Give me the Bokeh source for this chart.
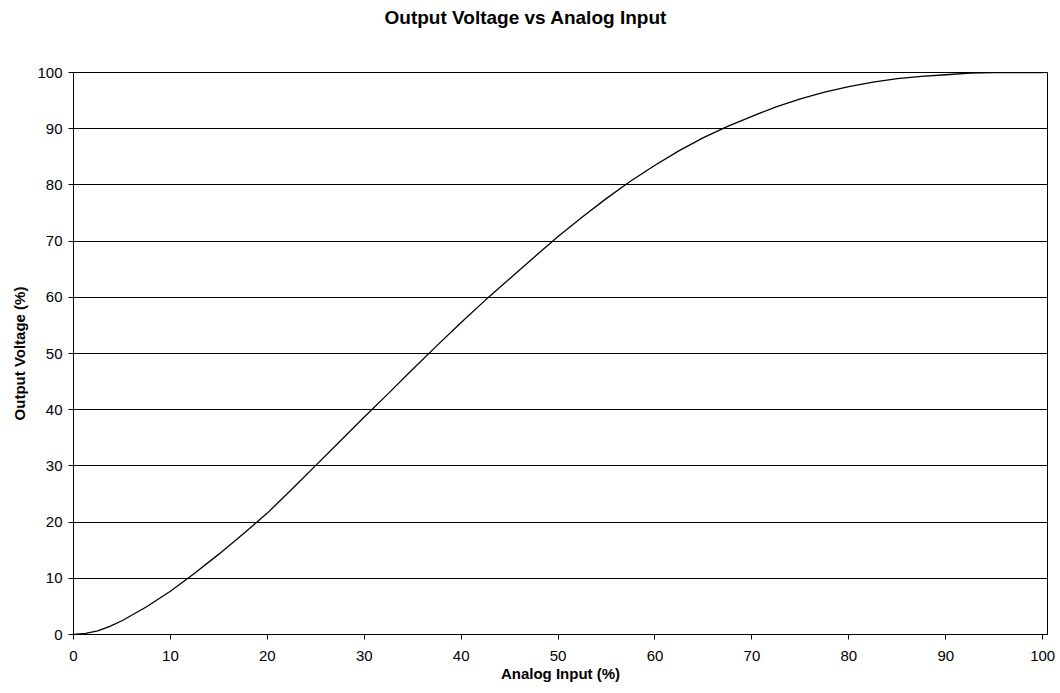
from bokeh.plotting import figure
from bokeh.embed import file_html
from bokeh.resources import INLINE
from bokeh.models import Range1d, FixedTicker, Title

analog_input = [0, 1.25, 2.5, 3.75, 5, 7.5, 10, 12.5, 15, 17.5, 20, 22.5, 25, 27.5, 30, 32.5, 35,
                37.5, 40, 42.5, 45, 47.5, 50, 52.5, 55, 57.5, 60, 62.5, 65, 67.5, 70, 72.5, 75,
                77.5, 80, 82.5, 85, 87.5, 90, 92.5, 95, 97.5, 100]
output_voltage = [0, 0.2, 0.65, 1.45, 2.45, 4.9, 7.7, 10.9, 14.3, 17.9, 21.6, 25.8, 30.1, 34.4,
                  38.7, 42.9, 47.2, 51.4, 55.5, 59.5, 63.3, 67.1, 70.8, 74.3, 77.6, 80.7, 83.5,
                  86.1, 88.4, 90.4, 92.2, 93.9, 95.3, 96.5, 97.5, 98.3, 98.9, 99.3, 99.6, 99.9,
                  100, 100, 100]
x_ticks = list(range(0, 101, 10))
y_ticks = list(range(0, 101, 10))
title_text = "Output Voltage vs Analog Input"

FONT = "Liberation Sans"

p = figure(width=1060, height=693, output_backend="svg", toolbar_location=None,
           x_range=Range1d(0, 100.5), y_range=Range1d(0, 100),
           min_border_left=73, min_border_right=13, min_border_top=72, min_border_bottom=59)
p.title = None

# blank spacer next to the frame (first in the "above" panel) pushes the title up
spacer = Title(text=" ", standoff=21, text_font=FONT, text_font_size="19px")
main_title = Title(text=title_text, align="left", offset=311, standoff=0,
                   vertical_align="middle", text_font=FONT, text_font_size="19px",
                   text_font_style="bold", text_color="black")
p.add_layout(spacer, "above")
p.add_layout(main_title, "above")

p.line(analog_input, output_voltage, line_color="black", line_width=1.3)

p.outline_line_color = "black"
p.outline_line_width = 1
p.background_fill_color = "white"
p.border_fill_color = "white"

p.xgrid.grid_line_color = None
p.ygrid.grid_line_color = "black"
p.ygrid.grid_line_width = 1
p.ygrid.ticker = FixedTicker(ticks=y_ticks)

for ax in (p.xaxis[0], p.yaxis[0]):
    ax.axis_line_color = "black"
    ax.major_tick_line_color = "black"
    ax.major_tick_out = 5
    ax.major_tick_in = 0
    ax.minor_tick_line_color = None
    ax.major_label_text_font = FONT
    ax.major_label_text_font_size = "15px"
    ax.major_label_text_color = "black"
    ax.axis_label_text_font = FONT
    ax.axis_label_text_font_size = "15px"
    ax.axis_label_text_font_style = "bold"
    ax.axis_label_text_color = "black"

p.xaxis.ticker = FixedTicker(ticks=x_ticks)
p.yaxis.ticker = FixedTicker(ticks=y_ticks)
p.xaxis.axis_label = "Analog Input (%)"
p.yaxis.axis_label = "Output Voltage (%)"
p.xaxis.major_label_standoff = 11
p.xaxis.axis_label_standoff = 1
p.yaxis.major_label_standoff = 6
p.yaxis.axis_label_standoff = 6

open("out.html", "w").write(file_html(p, INLINE))
